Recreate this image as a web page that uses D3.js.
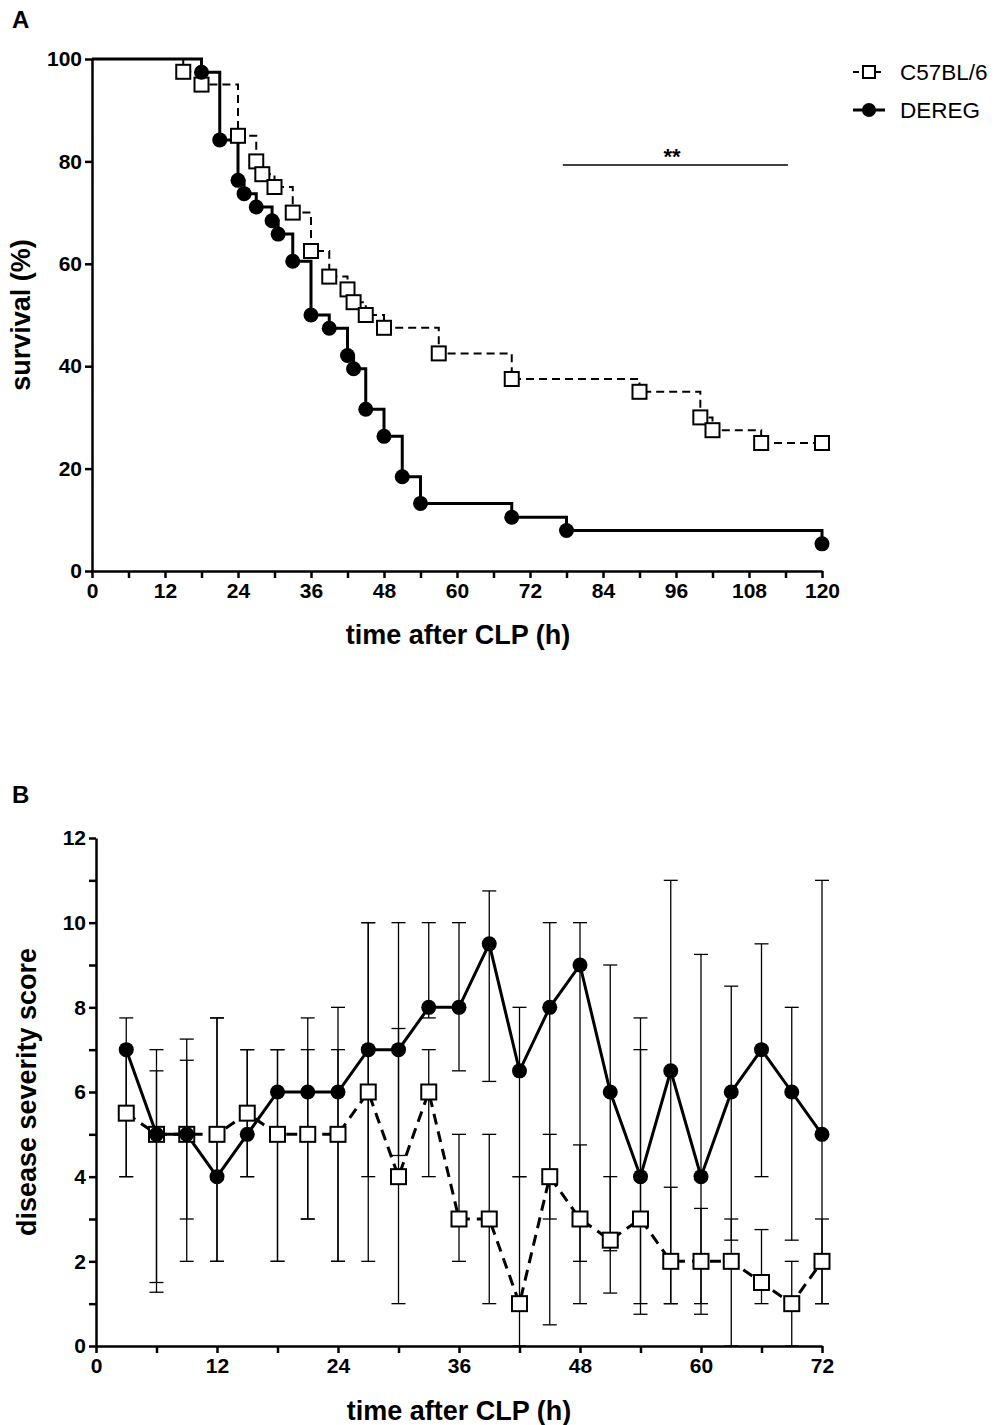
<!DOCTYPE html>
<html lang='en'>
<head>
<meta charset='utf-8'/>
<script src='https://d3js.org/d3.v7.min.js'></script>
<style>
  body{margin:0;background:#fff;font-family:Arial,'Liberation Sans',sans-serif;}
  text{font-family:Arial,'Liberation Sans',sans-serif;}
</style>
</head>
<body>
<svg id='chart' width='996' height='1425'></svg>
<script>
// Panel A: Kaplan-Meier steps (time h, survival %)
const wtTimes = [0, 15, 18, 24, 27, 28, 30, 33, 36, 39, 42, 43, 45, 48, 57, 69, 90, 100, 102, 110, 120];
const wtSurv  = [100, 97.5, 95, 85, 80, 77.5, 75, 70, 62.5, 57.5, 55, 52.5, 50, 47.5, 42.5, 37.5, 35, 30, 27.5, 25, 25];
const deTimes = [0, 18, 21, 24, 25, 27, 29.6, 30.6, 33, 36, 39, 42, 43, 45, 48, 51, 54, 69, 78, 120];
const deSurv  = [100, 97.4, 84.2, 76.3, 73.7, 71.1, 68.4, 65.8, 60.5, 50, 47.4, 42.1, 39.5, 31.6, 26.3, 18.4, 13.2, 10.5, 7.9, 5.3];

// Panel B: disease score
const bTimes = [3,6,9,12,15,18,21,24,27,30,33,36,39,42,45,48,51,54,57,60,63,66,69,72];
const deMean = [7,5,5,4,5,6,6,6,7,7,8,8,9.5,6.5,8,9,6,4,6.5,4,6,7,6,5];
const deLo   = [4,1.5,2,2,4,2,3,2,4,4.5,7.75,6.5,6.25,4,3,2,2.25,1,1,0.75,2.5,4,2.5,1];
const deHi   = [7.75,7,7.25,7.75,7,7,7.75,8,10,10,10,10,10.75,8,10,10,9,7.75,11,9.25,8.5,9.5,8,11];
const wtMean = [5.5,5,5,5,5.5,5,5,5,6,4,6,3,3,1,4,3,2.5,3,2,2,2,1.5,1,2];
const wtLo   = [4,1.27,3,2,4,2,3,2,2,1,4,2,1,0,0.5,1,1.25,0.75,1,1,0,1,0,1];
const wtHi   = [7,6.5,6.75,7.75,7,7,7,7,10,7.5,7,5,5,4,5,4.75,4,7,3.75,3.25,3,2.75,2,3];

const svg = d3.select('#chart');
const sq = (g, x, y, s) => g.append('rect').attr('x', x - s/2).attr('y', y - s/2)
  .attr('width', s).attr('height', s).attr('fill', '#fff').attr('stroke', '#000').attr('stroke-width', 2);

// ---------- Panel A ----------
const xA = d3.scaleLinear().domain([0, 120]).range([92, 822]);
const yA = d3.scaleLinear().domain([0, 100]).range([571, 59]);

function styleAxis(g) {
  g.attr('font-family', 'Arial, Liberation Sans, sans-serif');
  g.selectAll('path, line').attr('stroke', '#000').attr('stroke-width', 2.5);
  g.selectAll('text').style('font-size', '21px').style('font-weight', 'bold').attr('fill', '#000');
}
svg.append('g').attr('transform', 'translate(0,571)')
  .call(d3.axisBottom(xA).tickValues(d3.range(0, 121, 6)).tickSize(7).tickSizeOuter(0)
    .tickFormat(d => d % 12 === 0 ? d : ''))
  .call(styleAxis).call(g => g.selectAll('text').attr('dy', '0.8em'));
svg.append('g').attr('transform', 'translate(92,0)')
  .call(d3.axisLeft(yA).tickValues(d3.range(0, 101, 20)).tickSize(7).tickSizeOuter(0))
  .call(styleAxis);

const stepLine = d3.line().curve(d3.curveStepAfter).x(d => xA(d[0])).y(d => yA(d[1]));
const wtPts = wtTimes.map((t, i) => [t, wtSurv[i]]);
const dePts = deTimes.map((t, i) => [t, deSurv[i]]);
svg.append('path').attr('d', stepLine(wtPts)).attr('fill', 'none').attr('stroke', '#000')
  .attr('stroke-width', 2).attr('stroke-dasharray', '8,5');
svg.append('path').attr('d', stepLine(dePts)).attr('fill', 'none').attr('stroke', '#000')
  .attr('stroke-width', 3);
const gA = svg.append('g');
wtPts.slice(1).forEach(p => sq(gA, xA(p[0]), yA(p[1]), 14));
dePts.slice(1).forEach(p => gA.append('circle').attr('cx', xA(p[0])).attr('cy', yA(p[1])).attr('r', 7.5));

// significance bar
svg.append('line').attr('x1', xA(77.4)).attr('x2', xA(114.4)).attr('y1', yA(79.3)).attr('y2', yA(79.3))
  .attr('stroke', '#000').attr('stroke-width', 1.5);
svg.append('text').attr('x', 672).attr('y', 164).attr('text-anchor', 'middle')
  .attr('font-size', 22).attr('font-weight', 'bold').text('**');

// legend
const lg = svg.append('g');
lg.append('line').attr('x1', 853).attr('x2', 885).attr('y1', 72).attr('y2', 72)
  .attr('stroke', '#000').attr('stroke-width', 2).attr('stroke-dasharray', '6,5');
sq(lg, 869, 72, 12);
lg.append('line').attr('x1', 853).attr('x2', 885).attr('y1', 110).attr('y2', 110)
  .attr('stroke', '#000').attr('stroke-width', 3);
lg.append('circle').attr('cx', 869).attr('cy', 110).attr('r', 7);
lg.append('text').attr('x', 900).attr('y', 80).attr('font-size', 22.5).text('C57BL/6');
lg.append('text').attr('x', 900).attr('y', 118).attr('font-size', 22.5).text('DEREG');

svg.append('text').attr('transform', 'translate(30,315) rotate(-90)').attr('text-anchor', 'middle')
  .attr('font-size', 27).attr('font-weight', 'bold').text('survival (%)');
svg.append('text').attr('x', 458).attr('y', 644).attr('text-anchor', 'middle')
  .attr('font-size', 27).attr('font-weight', 'bold').text('time after CLP (h)');
svg.append('text').attr('x', 12).attr('y', 28).attr('font-size', 24).attr('font-weight', 'bold').text('A');

// ---------- Panel B ----------
const xB = d3.scaleLinear().domain([0, 72]).range([96, 822]);
const yB = d3.scaleLinear().domain([0, 12]).range([1346, 838]);

svg.append('g').attr('transform', 'translate(0,1346)')
  .call(d3.axisBottom(xB).tickValues(d3.range(0, 73, 6)).tickSize(7).tickSizeOuter(0)
    .tickFormat(d => d % 12 === 0 ? d : ''))
  .call(styleAxis).call(g => g.selectAll('text').attr('dy', '0.8em'));
svg.append('g').attr('transform', 'translate(96,0)')
  .call(d3.axisLeft(yB).tickValues(d3.range(0, 13, 1)).tickSize(7).tickSizeOuter(0)
    .tickFormat(d => d % 2 === 0 ? d : ''))
  .call(styleAxis);

const gB = svg.append('g');
function errBars(lo, hi) {
  bTimes.forEach((t, i) => {
    const x = xB(t);
    gB.append('line').attr('x1', x).attr('x2', x).attr('y1', yB(lo[i])).attr('y2', yB(hi[i]))
      .attr('stroke', '#000').attr('stroke-width', 1.3);
    [lo[i], hi[i]].forEach(v => gB.append('line').attr('x1', x - 7).attr('x2', x + 7)
      .attr('y1', yB(v)).attr('y2', yB(v)).attr('stroke', '#000').attr('stroke-width', 1.3));
  });
}
errBars(deLo, deHi);
errBars(wtLo, wtHi);

const lineB = d3.line().x(d => xB(d[0])).y(d => yB(d[1]));
const wtB = bTimes.map((t, i) => [t, wtMean[i]]);
const deB = bTimes.map((t, i) => [t, deMean[i]]);
gB.append('path').attr('d', lineB(wtB)).attr('fill', 'none').attr('stroke', '#000')
  .attr('stroke-width', 3).attr('stroke-dasharray', '11,7');
gB.append('path').attr('d', lineB(deB)).attr('fill', 'none').attr('stroke', '#000')
  .attr('stroke-width', 3);
wtB.forEach(p => sq(gB, xB(p[0]), yB(p[1]), 15));
deB.forEach(p => gB.append('circle').attr('cx', xB(p[0])).attr('cy', yB(p[1])).attr('r', 7.5));

svg.append('text').attr('transform', 'translate(36,1092) rotate(-90)').attr('text-anchor', 'middle')
  .attr('font-size', 27).attr('font-weight', 'bold').text('disease severity score');
svg.append('text').attr('x', 459).attr('y', 1420).attr('text-anchor', 'middle')
  .attr('font-size', 27).attr('font-weight', 'bold').text('time after CLP (h)');
svg.append('text').attr('x', 12).attr('y', 803).attr('font-size', 24).attr('font-weight', 'bold').text('B');
</script>
</body>
</html>
